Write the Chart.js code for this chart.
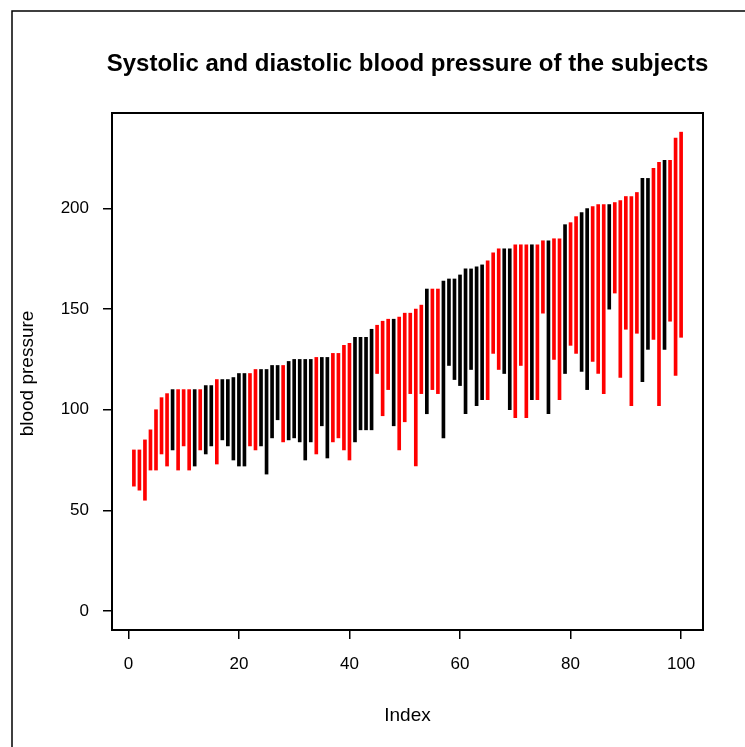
<!DOCTYPE html>
<html>
<head>
<meta charset="utf-8">
<script src="https://cdn.jsdelivr.net/npm/chart.js@4"></script>
<style>
html,body{margin:0;padding:0;background:#fff;}
#wrap{width:745px;height:747px;position:relative;}
</style>
</head>
<body>
<div id="wrap"><canvas id="c" width="745" height="747"></canvas></div>
<script>
const chartTitle = "Systolic and diastolic blood pressure of the subjects";
const xTitle = "Index";
const yTitle = "blood pressure";
const xTicks = [0, 20, 40, 60, 80, 100];
const yTicks = [0, 50, 100, 150, 200];

const systolic = [80,80,85,90,100,106,108,110,110,110,
  110,110,110,112,112,115,115,115,116,118,
  118,118,120,120,120,122,122,122,124,125,
  125,125,125,126,126,126,128,128,132,133,
  136,136,136,140,142,144,145,145,146,148,
  148,150,152,160,160,160,164,165,165,167,
  170,170,171,172,174,178,180,180,180,182,
  182,182,182,182,184,184,185,185,192,193,
  196,198,200,201,202,202,202,203,204,206,
  206,208,215,215,220,223,224,224,235,238];
const diastolic = [62,60,55,70,70,78,72,80,70,82,
  70,72,80,78,82,73,85,82,75,72,
  72,82,80,82,68,86,95,84,85,86,
  84,75,84,78,92,76,84,86,80,75,
  84,90,90,90,118,97,110,92,80,94,
  108,72,108,98,110,108,86,122,115,112,
  98,120,102,105,105,128,120,118,100,96,
  122,96,105,105,148,98,125,105,118,132,
  128,119,110,124,118,108,150,158,116,140,
  102,138,114,130,135,102,130,144,117,136];
// 1 = red group, 0 = black group
const group = [1,1,1,1,1,1,1,0,1,1,
  1,0,1,0,0,1,0,0,0,0,
  0,1,1,0,0,0,0,1,0,0,
  0,0,0,1,0,0,1,1,1,1,
  0,0,0,0,1,1,1,0,1,1,
  1,1,1,0,1,1,0,0,0,0,
  0,0,0,0,1,1,1,0,0,1,
  1,1,0,1,1,0,1,1,0,1,
  1,0,0,1,1,1,0,1,1,1,
  1,1,0,0,1,1,0,1,1,1];

const palette = ["#000000", "#ff0000"];
const points = systolic.map((s, i) => ({x: i + 1, y: [diastolic[i], s]}));
const colors = group.map(g => palette[g]);

const FONT = "'Liberation Sans', Arial, Helvetica, sans-serif";

const decor = {
  id: 'decor',
  beforeDraw(chart) {
    const ctx = chart.ctx;
    ctx.save();
    ctx.fillStyle = '#fff';
    ctx.fillRect(0, 0, chart.width, chart.height);
    ctx.restore();
  },
  afterDraw(chart) {
    const ctx = chart.ctx;
    const a = chart.chartArea;
    ctx.save();
    ctx.strokeStyle = '#000';
    ctx.lineWidth = 2;
    ctx.strokeRect(a.left, a.top, a.right - a.left, a.bottom - a.top);
    ctx.lineWidth = 1.5;
    ctx.beginPath();
    ctx.moveTo(12, 800); ctx.lineTo(12, 11); ctx.lineTo(800, 11);
    ctx.stroke();
    ctx.fillStyle = '#000';
    ctx.textAlign = 'center';
    ctx.textBaseline = 'middle';
    ctx.font = 'bold 24px ' + FONT;
    ctx.fillText(chartTitle, (a.left + a.right) / 2, 64);
    ctx.font = '19px ' + FONT;
    ctx.fillText(xTitle, (a.left + a.right) / 2, 716);
    ctx.translate(28, (a.top + a.bottom) / 2 + 2);
    ctx.rotate(-Math.PI / 2);
    ctx.fillText(yTitle, 0, 0);
    ctx.restore();
  }
};

new Chart(document.getElementById('c'), {
  type: 'bar',
  data: {
    datasets: [{
      data: points,
      backgroundColor: colors,
      borderWidth: 0,
      barThickness: 3
    }]
  },
  options: {
    responsive: false,
    animation: false,
    devicePixelRatio: 1,
    layout: {padding: {left: 0, top: 113, right: 42, bottom: 0}},
    plugins: {legend: {display: false}, tooltip: {enabled: false}, title: {display: false}},
    scales: {
      x: {
        type: 'linear',
        offset: false,
        min: -2.96, max: 103.96,
        afterBuildTicks: s => { s.ticks = xTicks.map(v => ({value: v})); },
        afterFit: s => { s.height = 117; },
        grid: {display: true, offset: false, drawOnChartArea: false, drawTicks: true, tickLength: 9, color: '#000', lineWidth: 1.5},
        border: {display: false},
        ticks: {color: '#000', font: {family: FONT, size: 17}, padding: 15, maxRotation: 0, autoSkip: false}
      },
      y: {
        type: 'linear',
        min: -9.52, max: 247.52,
        afterBuildTicks: s => { s.ticks = yTicks.map(v => ({value: v})); },
        afterFit: s => { s.width = 112; },
        grid: {display: true, drawOnChartArea: false, drawTicks: true, tickLength: 9, color: '#000', lineWidth: 1.5},
        border: {display: false},
        ticks: {color: '#000', font: {family: FONT, size: 17}, padding: 14, autoSkip: false}
      }
    }
  },
  plugins: [decor]
});
</script>
</body>
</html>
